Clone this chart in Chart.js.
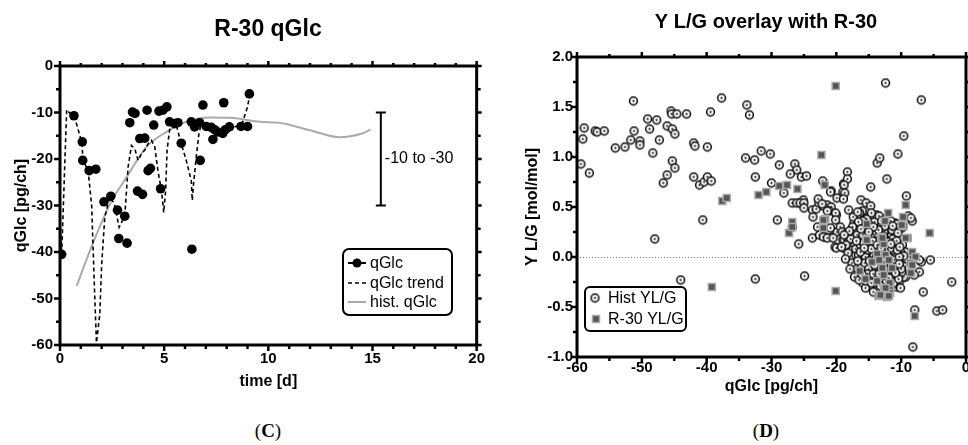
<!DOCTYPE html>
<html><head><meta charset="utf-8">
<script src="https://cdn.jsdelivr.net/npm/chart.js@4.4.1/dist/chart.umd.min.js"></script>
<style>
html,body{margin:0;padding:0;background:#fff;}
body{width:968px;height:445px;overflow:hidden;position:relative;font-family:"Liberation Sans",Arial,sans-serif;}
canvas{position:absolute;top:0;}
.cap{position:absolute;top:420px;line-height:22px;font-family:"Liberation Serif","DejaVu Serif",serif;font-size:19px;transform:translateX(-50%);color:#000;}
</style></head><body>
<canvas id="c1" width="490" height="405" style="left:0"></canvas>
<canvas id="c2" width="490" height="405" style="left:490px"></canvas>
<div class="cap" style="left:268px">(<b>C</b>)</div>
<div class="cap" style="left:766px">(<b>D</b>)</div>
<script>
// ---------- Panel C data ----------
const qGlcDays   = [0.08,0.67,1.07,1.09,1.40,1.72,2.11,2.44,2.76,2.82,3.11,3.22,3.35,3.48,3.60,3.72,3.83,3.96,4.07,4.18,4.23,4.34,4.50,4.75,4.83,4.94,5.13,5.26,5.50,5.66,5.82,6.30,6.33,6.46,6.70,6.73,6.86,7.02,7.26,7.34,7.42,7.57,7.81,7.86,7.94,8.13,8.69,9.00,9.09];
const qGlcValues = [-40.5,-10.7,-16.3,-20.3,-22.5,-22.2,-29.2,-28.0,-31.0,-37.1,-32.3,-38.1,-12.2,-9.9,-10.2,-26.9,-15.6,-27.6,-15.5,-9.5,-22.5,-22.0,-12.7,-9.7,-26.4,-9.5,-8.8,-12.0,-12.4,-12.2,-16.6,-12.0,-39.4,-13.1,-12.2,-20.3,-8.4,-13.0,-13.2,-15.8,-13.7,-14.2,-14.5,-7.9,-13.7,-13.1,-13.0,-13.0,-6.0];
const trendDays   = [0,0.08,0.32,0.72,1.04,1.11,1.35,1.52,1.67,1.75,1.91,2.0,2.15,2.39,2.6,2.84,3.11,3.27,3.43,3.59,3.75,3.91,4.07,4.23,4.39,4.55,4.70,4.87,4.98,5.07,5.14,5.26,5.42,5.6,5.82,6.06,6.3,6.35,6.41,6.54,6.67,6.78,7.0,7.3,7.6,7.9,8.2,8.5,8.77,9.0,9.12];
const trendValues = [-33,-40.5,-9.4,-11.3,-16.3,-20.3,-22.5,-30,-49.8,-59.5,-53.4,-42.6,-32.5,-28.2,-29.5,-34.7,-32.2,-21.7,-17.1,-17.8,-20.3,-18.9,-18.1,-16.7,-16.0,-17.4,-22.5,-26.8,-31.5,-26.8,-18.1,-13.8,-12.4,-13.0,-16.7,-20.3,-24.6,-28.9,-25.3,-19.6,-14.5,-12.4,-12.6,-13.3,-13.8,-13.9,-13.4,-12.9,-12.0,-8.8,-6.0];
const histDays   = [0.8,1.5,2.4,3.2,4.15,5.1,6.06,7.2,8.3,9.6,10.5,12.0,13.4,14.5,14.9];
const histValues = [-47.3,-39,-29.7,-23.9,-17.4,-14.2,-12.0,-11.1,-11.2,-12.0,-12.2,-13.8,-15.3,-14.5,-13.7];
const timeTicks = [0,5,10,15,20];
const qGlcTicks = [0,-10,-20,-30,-40,-50,-60];
const rangeBarDay = 15.4;
const rangeBar = [-10,-30];
const rangeLabel = '-10 to -30';
const legendC = ['qGlc','qGlc trend','hist. qGlc'];

// ---------- Panel D data ----------
const histYLG = [
[-58.9,1.29],[-59.1,1.18],[-59.4,0.93],[-58.1,0.84],[-57.2,1.26],[-56.9,1.25],[-55.8,1.26],[-54.1,1.09],[-52.6,1.10],[-51.7,1.17],[-51.2,1.26],[-51.3,1.56],[-50.3,1.16],[-50.3,1.12],[-49.1,1.38],[-48.8,1.28],[-47.7,1.37],[-48.3,1.04],[-47.3,1.17],[-48.0,0.18],[-46.7,0.74],[-46.1,0.82],[-46.1,1.31],[-45.5,1.46],[-45.4,1.43],[-45.3,1.28],[-44.9,1.23],[-44.6,1.43],[-45.3,0.96],[-44.9,0.89],[-43.1,1.43],[-42.0,1.14],[-41.8,1.11],[-42.0,0.80],[-39.9,1.10],[-41.1,0.72],[-40.4,0.75],[-39.9,0.80],[-39.3,0.76],[-39.4,1.45],[-37.7,1.59],[-40.6,0.37],[-34.0,0.99],[-33.8,1.52],[-33.4,1.42],
[-44.0,-0.23],[-32.5,-0.22],[-24.9,-0.19],
[-32.6,0.97],[-31.6,1.06],[-30.2,1.03],[-28.8,0.92],[-32.5,0.80],[-26.4,0.93],[-26.1,0.87],[-27.1,0.83],[-25.4,0.80],[-24.6,0.81],[-30.0,0.74],[-28.1,0.64],[-25.1,0.57],[-26.8,0.54],[-26.1,0.54],[-25.6,0.54],[-25.0,0.54],[-25.0,0.49],[-23.7,0.47],[-23.1,0.48],[-23.6,0.40],[-22.7,0.54],[-22.0,0.51],[-21.4,0.52],[-20.8,0.50],[-22.8,0.58],[-22.1,0.76],[-20.8,0.66],[-19.9,0.59],[-19.0,0.65],[-18.9,0.73],[-18.3,0.85],[-18.3,0.78],[-21.1,0.46],[-20.0,0.42],[-18.1,0.47],[-29.1,0.37],[-26.8,0.30],[-25.8,0.13],[-23.7,0.19],[-22.6,0.22],[-21.7,0.20],[-20.6,0.20],[-19.9,0.25],[-19.0,0.17],[-22.9,0.30],
[-14.7,0.70],[-13.7,0.94],[-13.3,0.99],[-12.2,0.78],[-10.5,1.03],[-9.6,1.21],[-12.4,1.74],[-6.9,1.57],[-9.2,0.61],[-16.2,0.57],[-15.4,0.54],[-14.7,0.51],[-13.8,0.42],[-16.3,0.40],[-15.3,0.39],[-8.9,0.41],[-8.3,0.36],[-11.0,0.34],[-9.9,0.29],
[-18.8,0.72],[-18.7,0.64],[-18.9,0.58],[-20.9,0.65],[-16.0,0.46],[-16.4,0.44],[-16.8,0.40],[-20.1,0.44],[-20.1,0.37],[-21.4,0.46],[-22.2,0.53],[-8.5,0.39],[-10.1,0.30],[-17.3,0.34],[-17.0,0.30],[-15.8,0.32],[-19.4,0.30],[-20.9,0.29],
[-20.2,0.10],[-18.9,0.09],[-10.7,-0.30],[-7.9,-0.53],[-8.2,-0.90],[-6.6,-0.35],[-4.5,-0.54],[-3.6,-0.53],[-2.2,-0.25],[-5.5,-0.03],[-7.2,-0.15],[-6.9,-0.05],[-10.0,-0.18],
[-22.0,0.20],[-21.4,0.19],[-20.5,0.19],[-20.0,0.09],[-18.8,0.17],[-18.1,0.16],[-17.5,0.07],[-17.0,0.02],[-17.3,0.29],[-16.5,0.26],[-19.1,0.25],[-18.3,0.24],[-11.9,0.21],[-10.6,0.12],[-10.1,0.14],[-9.1,0.04],[-8.5,-0.08],[-7.2,-0.03],[-8.0,-0.18],[-9.3,-0.20],[-14.7,-0.18],[-13.9,-0.23],[-14.2,-0.28],
[-17.2,0.28],[-16.8,0.22],[-16.5,0.31],[-16.1,0.18],[-15.8,0.26],[-15.4,0.12],[-15.1,0.29],[-14.8,0.21],[-14.5,0.15],[-14.2,0.27],[-13.9,0.09],[-13.6,0.19],[-13.2,0.24],[-12.9,0.11],[-12.6,0.17],[-12.2,0.06],[-11.9,0.14],[-11.5,0.22],[-11.2,0.03],[-10.8,0.09],
[-17.0,0.08],[-16.6,0.02],[-16.3,0.12],[-15.9,-0.03],[-15.6,0.06],[-15.2,-0.08],[-14.9,0.03],[-14.6,-0.05],[-14.3,0.07],[-14.0,-0.02],[-13.7,-0.09],[-13.4,0.04],[-13.1,-0.06],[-12.8,0.01],[-12.5,-0.12],[-12.1,-0.04],[-11.8,-0.10],[-11.4,-0.01],[-11.1,-0.15],[-10.7,-0.06],[-10.4,-0.11],[-10.0,-0.03],[-9.7,-0.09],
[-16.9,-0.11],[-16.4,-0.16],[-15.7,-0.13],[-15.3,-0.19],[-14.8,-0.14],[-14.4,-0.22],[-14.1,-0.12],[-13.8,-0.18],[-13.3,-0.24],[-12.9,-0.16],[-12.4,-0.21],[-12.0,-0.17],[-11.6,-0.23],[-11.3,-0.19],[-10.9,-0.21],[-10.5,-0.18],[-10.2,-0.24],
[-15.9,-0.26],[-14.9,-0.29],[-13.6,-0.31],[-12.7,-0.28],[-11.8,-0.30],[-10.8,-0.27],[-15.3,0.38],[-14.1,0.35],[-13.0,0.31],[-12.0,0.28],[-11.0,0.25],[-10.3,0.19],[-9.8,0.12],[-9.4,0.05],[-9.1,-0.02],[-8.8,-0.12],[-9.6,-0.20],
[-17.8,0.18],[-18.2,0.04],[-17.6,-0.06],[-18.5,0.12],[-17.4,0.40],[-16.7,0.45],[-16.0,0.36],[-14.6,0.44],[-13.4,0.41],[-12.4,0.38],[-11.6,0.36],[-10.6,0.33],
[-15.5,0.00],[-14.7,0.10],[-13.5,-0.13],[-12.3,0.08],[-11.7,0.02],[-10.9,0.14],[-13.9,0.23],[-12.8,-0.03],[-11.3,0.11],[-14.4,-0.07],[-16.2,-0.07],[-15.0,0.17],[-13.1,0.15],[-12.2,-0.09],[-11.0,-0.09],[-10.1,0.05],[-9.9,-0.15],[-16.6,0.35],[-17.5,0.30],[-18.0,0.26],[-18.8,0.22],[-19.2,0.10],[-18.6,-0.02],[-17.9,-0.12],[-17.2,-0.20],[-16.5,-0.23],
[-15.8,0.14],[-15.1,0.07],[-14.6,0.19],[-14.0,0.13],[-13.5,0.08],[-13.0,0.05],[-12.4,0.12],[-11.9,0.08],[-11.3,0.18],[-10.7,0.02],
[-15.6,-0.06],[-15.0,-0.12],[-14.5,-0.02],[-13.9,-0.14],[-13.3,-0.10],[-12.7,-0.07],[-12.1,-0.14],[-11.5,-0.06],[-11.0,-0.03],[-10.6,-0.13],
[-15.2,-0.17],[-14.3,-0.17],[-13.6,-0.21],[-12.8,-0.22],[-12.3,-0.25],[-11.7,-0.17],[-11.2,-0.26],[-10.4,-0.22],[-10.0,-0.12],[-9.6,0.01],
[-16.3,0.05],[-15.9,0.22],[-14.2,0.02],[-13.2,0.18],[-12.6,0.26],[-11.8,0.30],[-11.4,0.27],[-10.5,0.24],[-14.9,0.32],[-16.9,0.16],
[-13.8,0.00],[-13.0,-0.15],[-12.0,0.00],[-11.2,0.07],[-10.3,0.00],[-14.6,0.08],[-15.5,-0.31],[-14.3,-0.35],[-12.0,-0.33],[-10.1,-0.31],
[-15.7,0.09],[-15.3,0.21],[-14.9,-0.04],[-14.4,0.16],[-14.1,-0.08],[-13.7,0.12],[-13.4,-0.17],[-13.1,0.09],[-12.8,0.21],[-12.5,-0.01],[-12.3,-0.16],[-12.0,0.15],[-11.7,-0.12],[-11.5,0.09],[-11.2,-0.10],[-10.9,-0.16],[-10.6,0.07],[-10.3,-0.07],
[-14.0,-0.26],[-13.2,-0.29],[-12.5,0.31],[-11.3,0.31],[-16.0,-0.18],[-16.7,-0.04],[-15.4,-0.24],[-14.6,-0.26],[-13.0,0.36],[-11.9,-0.21],[-10.7,0.16],[-12.6,-0.12],[-13.5,0.27],[-14.3,0.30],[-15.0,0.25],[-16.2,0.28],[-11.6,0.13],[-10.2,0.10]
];
const r30YLG = [
[-37.6,0.56],[-36.9,0.59],[-20.1,1.71],[-22.3,1.02],[-32.0,0.62],[-30.8,0.65],[-28.8,0.71],[-27.6,0.72],[-26.0,0.68],[-21.8,0.72],[-26.8,0.35],[-27.3,0.24],[-22.0,0.29],[-21.7,0.38],[-15.3,0.33],[-12.5,0.36],[-12.0,0.44],[-15.4,0.18],[-13.1,0.20],[-12.7,0.13],[-9.7,0.40],[-9.6,0.31],[-9.3,0.52],[-9.0,0.19],[-5.6,0.24],[-39.2,-0.30],[-20.1,-0.34],[-13.5,-0.39],[-12.2,-0.40],[-12.6,-0.32],[-11.7,-0.31],[-11.7,-0.36],[-15.5,-0.22],[-13.7,-0.24],[-16.4,-0.14],[-7.9,-0.59],[-11.8,-0.26],[-8.3,0.05],[-7.8,0.00],[-8.6,-0.06],[-8.5,-0.16],[-15.3,0.17],[-12.9,0.19],[-14.5,-0.05],[-13.7,0.03],[-12.4,0.02],[-13.4,-0.03],[-11.9,-0.03],[-12.9,-0.11],[-12.7,-0.18],[-11.4,-0.11],[-12.4,-0.31],[-13.2,-0.38],[-11.9,-0.39],[-9.3,0.19],[-8.3,-0.08],[-9.9,0.32],[-22.0,0.37],[-26.8,0.30]
];
const qGlcTicksD = [-60,-50,-40,-30,-20,-10,0];
const ylgTicks = [-1,-0.5,0,0.5,1,1.5,2];
const legendD = ['Hist YL/G','R-30 YL/G'];

const F = '"Liberation Sans", Arial, sans-serif';
Chart.defaults.color = '#000';
Chart.defaults.font.family = F;

// marker for historical points (open circle with centre dot)
const histMarker = document.createElement('canvas');
histMarker.width = 11; histMarker.height = 11;
(function(){const c=histMarker.getContext('2d');c.beginPath();c.arc(5.5,5.5,3.9,0,Math.PI*2);c.fillStyle='#fff';c.fill();c.lineWidth=1.5;c.strokeStyle='#000';c.stroke();c.beginPath();c.arc(5.5,5.5,1.1,0,Math.PI*2);c.fillStyle='#000';c.fill();})();

function seg(ctx,x1,y1,x2,y2){ctx.beginPath();ctx.moveTo(x1,y1);ctx.lineTo(x2,y2);ctx.stroke();}
function range(a,b,s){const r=[];for(let v=a;v<=b+1e-9;v+=s)r.push(+v.toFixed(4));return r;}

function framePlugin(o){
  return {id:'frame',
    beforeDatasetsDraw(chart){
      if(o.zeroLine){const {ctx,chartArea:a,scales:{y}}=chart;const py=Math.round(y.getPixelForValue(0))+0.5;
        ctx.save();ctx.strokeStyle='#777';ctx.lineWidth=1;ctx.setLineDash([1,2]);seg(ctx,a.left,py,a.right,py);ctx.restore();}
    },
    afterDraw(chart){
      const {ctx,chartArea:a,scales:{x,y}}=chart;
      ctx.save();ctx.strokeStyle='#000';ctx.lineCap='butt';
      ctx.lineWidth=2.5;
      range(x.min,x.max,o.xMinor).forEach(v=>{const p=x.getPixelForValue(v);const maj=Math.abs(v%o.xMajor)<1e-6;
        seg(ctx,p,a.bottom,p,a.bottom+(maj?6:4)); seg(ctx,p,a.top,p,a.top-(maj?5:3));});
      range(y.min,y.max,o.yMinor).forEach(v=>{const p=y.getPixelForValue(v);const maj=Math.abs(v%o.yMajor)<1e-6;
        seg(ctx,a.left,p,a.left-(maj?6:4),p); seg(ctx,a.right,p,a.right+(maj?5:4),p);});
      ctx.lineWidth=3;ctx.strokeRect(a.left,a.top,a.right-a.left,a.bottom-a.top);
      ctx.fillStyle='#000';ctx.font='bold '+o.titleSize+'px '+F;ctx.textAlign='center';ctx.textBaseline='middle';
      ctx.fillText(o.title,o.titleX,o.titleY);
      ctx.restore();
    }};
}

const rangePlugin = {id:'rangebar', afterDatasetsDraw(chart){
  const {ctx,scales:{x,y}}=chart;const px=x.getPixelForValue(rangeBarDay);
  const y1=y.getPixelForValue(rangeBar[0]), y2=y.getPixelForValue(rangeBar[1]);
  ctx.save();ctx.strokeStyle='#000';ctx.lineWidth=2;seg(ctx,px,y1,px,y2);seg(ctx,px-5,y1,px+5,y1);seg(ctx,px-5,y2,px+5,y2);
  ctx.fillStyle='#000';ctx.font='16px '+F;ctx.textAlign='left';ctx.textBaseline='middle';ctx.fillText(rangeLabel,px+4,(y1+y2)/2);ctx.restore();
}};

function roundRect(ctx,x,y,w,h,r){ctx.beginPath();ctx.moveTo(x+r,y);ctx.arcTo(x+w,y,x+w,y+h,r);ctx.arcTo(x+w,y+h,x,y+h,r);ctx.arcTo(x,y+h,x,y,r);ctx.arcTo(x,y,x+w,y,r);ctx.closePath();}

const legendPluginC = {id:'legC', afterDraw(chart){
  const ctx=chart.ctx;ctx.save();
  ctx.fillStyle='#fff';roundRect(ctx,343,249,109,66,6);ctx.fill();ctx.lineWidth=2;ctx.strokeStyle='#000';ctx.stroke();
  const rows=[263,283,302];
  ctx.lineWidth=2;seg(ctx,348,rows[0],366,rows[0]);ctx.beginPath();ctx.arc(357,rows[0],4.5,0,Math.PI*2);ctx.fillStyle='#000';ctx.fill();
  ctx.lineWidth=1.6;ctx.setLineDash([4,3]);seg(ctx,348,rows[1],366,rows[1]);ctx.setLineDash([]);
  ctx.lineWidth=2;ctx.strokeStyle='#aaa';seg(ctx,348,rows[2],366,rows[2]);
  ctx.fillStyle='#000';ctx.font='16px '+F;ctx.textAlign='left';ctx.textBaseline='middle';
  legendC.forEach((t,i)=>ctx.fillText(t,370,rows[i]+1));ctx.restore();
}};
const legendPluginD = {id:'legD', afterDraw(chart){
  const ctx=chart.ctx;ctx.save();
  ctx.fillStyle='#fff';roundRect(ctx,95,287,101,44,5);ctx.fill();ctx.lineWidth=2;ctx.strokeStyle='#000';ctx.stroke();
  const rows=[298,319];
  ctx.drawImage(histMarker,105-5.5,rows[0]-5.5);
  ctx.fillStyle='#555';ctx.fillRect(102.5,rows[1]-3.5,7,7);ctx.strokeStyle='#aaa';ctx.lineWidth=1.5;ctx.strokeRect(102.5,rows[1]-3.5,7,7);
  ctx.fillStyle='#000';ctx.font='16px '+F;ctx.textAlign='left';ctx.textBaseline='middle';
  legendD.forEach((t,i)=>ctx.fillText(t,118,rows[i]+1));ctx.restore();
}};

const tickFont = {family:F,size:15,weight:'bold'};
const titleFont = {family:F,size:16,weight:'bold'};

new Chart(document.getElementById('c1'),{
  type:'scatter',
  data:{datasets:[
    {label:legendC[0],data:qGlcDays.map((d,i)=>({x:d,y:qGlcValues[i]})),showLine:false,pointRadius:4.8,pointBackgroundColor:'#000',pointBorderColor:'#000',pointBorderWidth:0,order:0},
    {label:legendC[1],data:trendDays.map((d,i)=>({x:d,y:trendValues[i]})),showLine:true,borderColor:'#000',borderWidth:1.6,borderDash:[4,3],pointRadius:0,tension:0,order:1},
    {label:legendC[2],data:histDays.map((d,i)=>({x:d,y:histValues[i]})),showLine:true,borderColor:'#aaa',borderWidth:2,pointRadius:0,cubicInterpolationMode:'monotone',order:2}
  ]},
  options:{responsive:false,animation:false,events:[],
    layout:{padding:{top:66,right:12,left:0,bottom:0}},
    plugins:{legend:{display:false},tooltip:{enabled:false}},
    scales:{
      x:{type:'linear',min:0,max:20,afterBuildTicks:s=>{s.ticks=timeTicks.map(v=>({value:v}));},
        grid:{display:false,drawTicks:false},border:{display:false},
        ticks:{font:tickFont,color:'#000',padding:5,maxRotation:0},
        title:{display:true,text:'time [d]',font:titleFont,color:'#000',padding:{top:0,bottom:14}},
        afterFit:s=>{s.height=60;}},
      y:{type:'linear',min:-60,max:0,afterBuildTicks:s=>{s.ticks=qGlcTicks.map(v=>({value:v}));},
        grid:{display:false,drawTicks:false},border:{display:false},
        ticks:{font:tickFont,color:'#000',padding:7},
        title:{display:true,text:'qGlc [pg/ch]',font:titleFont,color:'#000',padding:{top:12,bottom:0}},
        afterFit:s=>{s.width=60;}}
    }},
  plugins:[framePlugin({xMinor:1,xMajor:5,yMinor:5,yMajor:10,title:'R-30 qGlc',titleSize:23,titleX:268,titleY:30}),rangePlugin,legendPluginC]
});

new Chart(document.getElementById('c2'),{
  type:'scatter',
  data:{datasets:[
    {label:legendD[1],data:r30YLG.map(p=>({x:p[0],y:p[1]})),pointStyle:'rect',pointRadius:5,pointBackgroundColor:'#555',pointBorderColor:'#aaa',pointBorderWidth:1.5,order:0},
    {label:legendD[0],data:histYLG.map(p=>({x:p[0],y:p[1]})),pointStyle:histMarker,pointRadius:5,order:1}
  ]},
  options:{responsive:false,animation:false,events:[],
    layout:{padding:{top:57,right:14,left:0,bottom:0}},
    plugins:{legend:{display:false},tooltip:{enabled:false}},
    scales:{
      x:{type:'linear',min:-60,max:0,afterBuildTicks:s=>{s.ticks=qGlcTicksD.map(v=>({value:v}));},
        grid:{display:false,drawTicks:false},border:{display:false},
        ticks:{font:tickFont,color:'#000',padding:2,maxRotation:0},
        title:{display:true,text:'qGlc [pg/ch]',font:titleFont,color:'#000',padding:{top:0,bottom:9}},
        afterFit:s=>{s.height=48;}},
      y:{type:'linear',min:-1,max:2,afterBuildTicks:s=>{s.ticks=ylgTicks.map(v=>({value:v}));},
        grid:{display:false,drawTicks:false},border:{display:false},
        ticks:{font:tickFont,color:'#000',padding:4,callback:v=>Number(v).toFixed(1)},
        title:{display:true,text:'Y L/G [mol/mol]',font:titleFont,color:'#000',padding:{top:33,bottom:0}},
        afterFit:s=>{s.width=87;}}
    }},
  plugins:[framePlugin({xMinor:5,xMajor:10,yMinor:0.25,yMajor:0.5,title:'Y L/G overlay with R-30',titleSize:20,titleX:276,titleY:22,zeroLine:true}),legendPluginD]
});
</script>
</body></html>
